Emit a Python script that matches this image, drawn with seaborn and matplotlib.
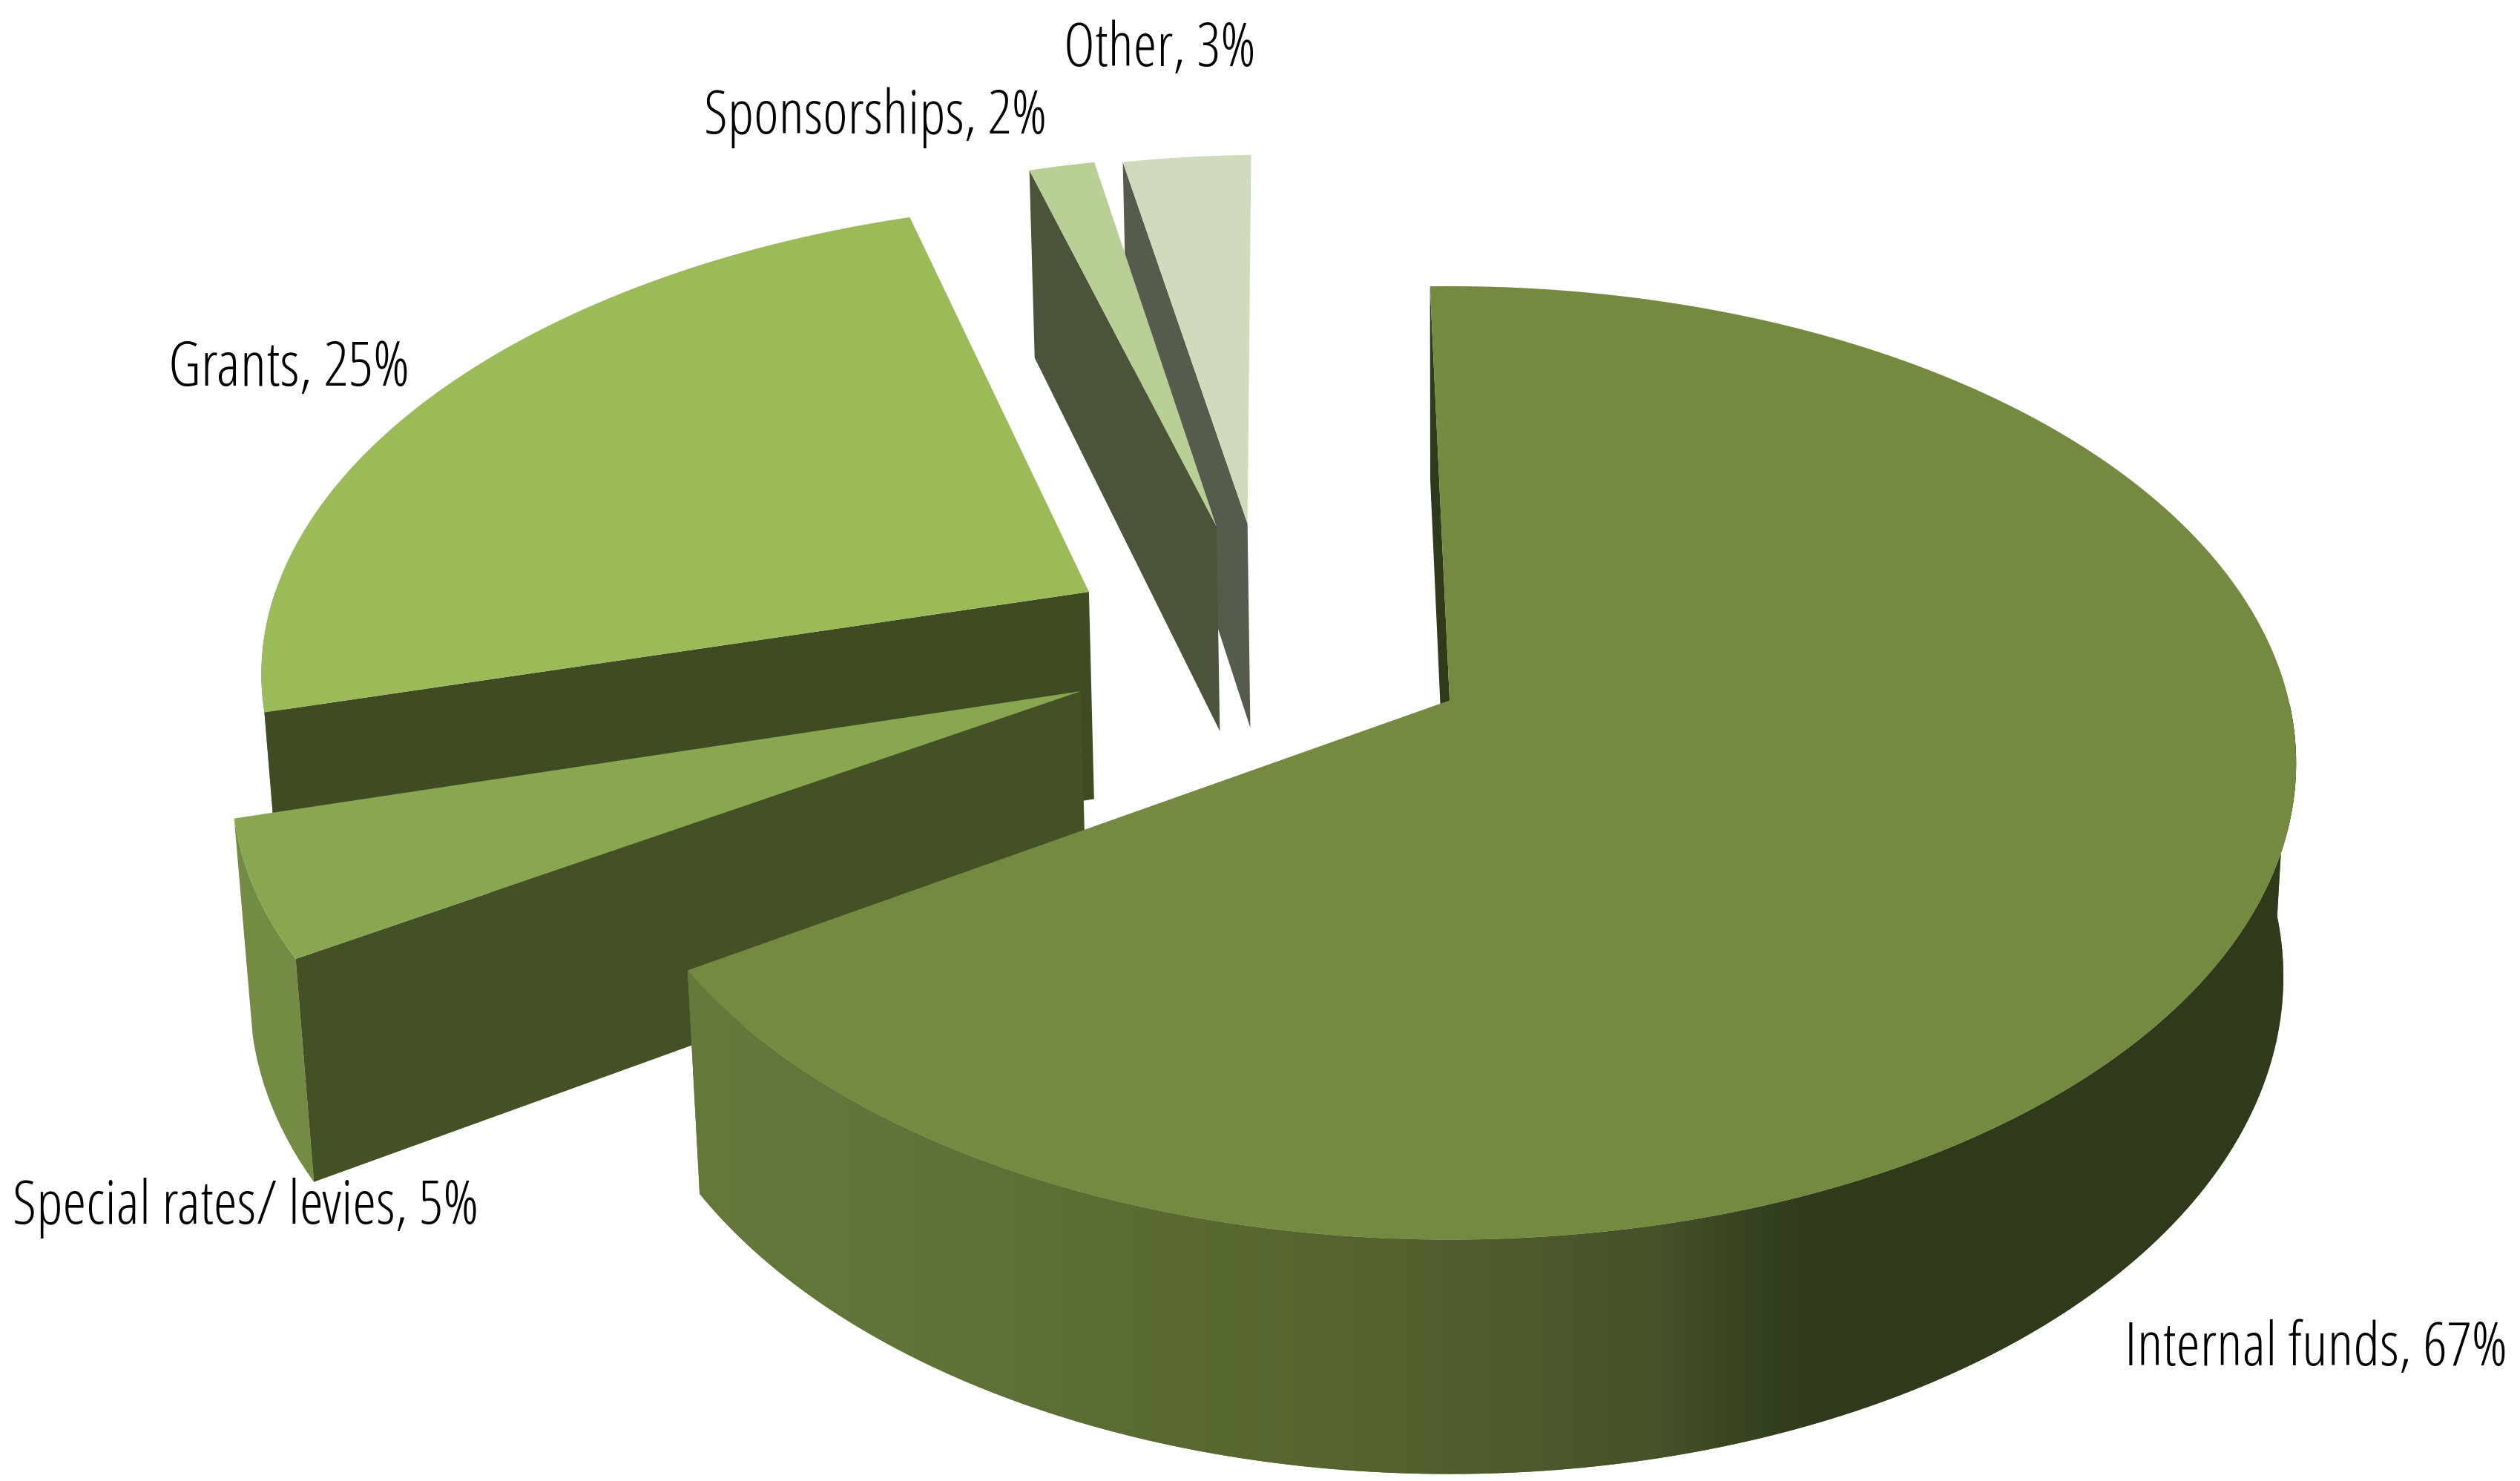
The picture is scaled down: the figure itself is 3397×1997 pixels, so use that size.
# %%
import numpy as np
import seaborn as sns
import matplotlib.pyplot as plt
from matplotlib.patches import Polygon

sources = ['Internal funds', 'Special rates/ levies', 'Grants', 'Sponsorships', 'Other']
shares = [66.55, 4.75, 24.45, 1.5, 2.95]
shown_pct = [67, 5, 25, 2, 3]
explode = [0.248, 0.24, 0.253, 0.28, 0.28]
radius = [0.995, 0.992, 0.995, 0.98, 0.973]

top_colors = ['#758A40', '#89A650', '#9BBB59', '#BACF95', '#CFDBBC']
cut_colors = ['#2E3A1A', '#445125', '#3F4B23', '#4C533B', '#555C4E']
rim_colors = ['#66793A', '#738B42', '#738B42', '#4C533B', '#555C4E']
wall_fade = ['#66793A', '#62753A', '#5E7036', '#5A6A32', '#56652F', '#4E5C2C',
             '#45522A', '#2E3A1A', '#2E3A1A', '#2E3A1A', '#2E3A1A']

label_x = [1322, 8, 105, 438, 662]
label_y = [850, 762, 240, 83, 41]
label_size = [59, 58.5, 60, 58, 58]

# perspective of the tilted disc
CX, CY = 901, 437
A, B, K = 525, 293.4, 0.132
DEPTH, M = 134, 0.015
ORIGIN = np.array([-0.217, -0.12])
START = -1.5


def direction(deg):
    t = np.radians(deg)
    return np.array([np.sin(t), -np.cos(t)])


def project(pts, z=0):
    pts = np.atleast_2d(pts)
    w = 1 - K * pts[:, 1] + M * z
    return np.column_stack([CX + A * pts[:, 0] / w, CY + (B * pts[:, 1] + DEPTH * z) / w])


sns.set_theme(style='white')
plt.rcParams['font.family'] = ['Open Sans', 'DejaVu Sans']

fig, ax = plt.subplots(figsize=(33.97, 19.97), dpi=100)
ax.set_position([0, 0, 1, 1])
ax.set_xlim(0, 1568)
ax.set_ylim(922, 0)
ax.axis('off')

sweep = np.array(shares) / sum(shares) * 360
ends = START + np.cumsum(sweep)
begins = ends - sweep

# back slices first so the front ones cover them
for i in [4, 3, 2, 1, 0]:
    mid = (begins[i] + ends[i]) / 2
    apex = ORIGIN + explode[i] * direction(mid)
    angs = np.linspace(begins[i], ends[i], 300)
    rim = apex + radius[i] * np.array([direction(a) for a in angs])

    # outer wall, only the part turned towards the viewer
    front = (angs > 90) & (angs < 270)
    if front.any():
        wall = np.vstack([project(rim[front]), project(rim[front], 1)[::-1]])
        patch = Polygon(wall, closed=True, fc=rim_colors[i], ec='none', zorder=i * -3 + 20)
        ax.add_patch(patch)
        if i == 0:
            cmap = sns.blend_palette(wall_fade, as_cmap=True)
            img = ax.imshow(np.linspace(0, 1, 512)[None, :], cmap=cmap, aspect='auto',
                            extent=[wall[:, 0].min(), wall[:, 0].max(), 922, 0], zorder=i * -3 + 20)
            img.set_clip_path(patch)
            ax.set_xlim(0, 1568)
            ax.set_ylim(922, 0)

    # cut face on the leading edge
    cut = np.vstack([project(apex), project(rim[0]), project(rim[0], 1), project(apex, 1)])
    ax.add_patch(Polygon(cut, closed=True, fc=cut_colors[i], ec='none', zorder=i * -3 + 21))

    top = np.vstack([project(apex), project(rim)])
    ax.add_patch(Polygon(top, closed=True, fc=top_colors[i], ec='none', zorder=i * -3 + 22))

    ax.text(label_x[i], label_y[i], f'{sources[i]}, {shown_pct[i]}%', fontsize=label_size[i],
            fontstretch='condensed', color='black', ha='left', va='baseline', zorder=40)

fig.savefig('out.png', dpi=100, facecolor='white')
